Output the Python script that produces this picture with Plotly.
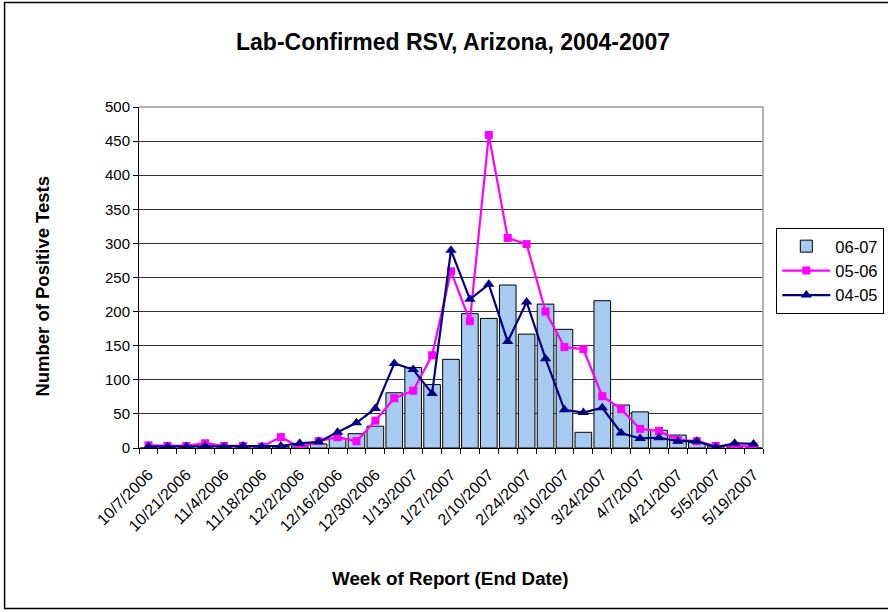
import plotly.graph_objects as go

weeks = ["10/7/2006", "10/14/2006", "10/21/2006", "10/28/2006", "11/4/2006", "11/11/2006",
         "11/18/2006", "11/25/2006", "12/2/2006", "12/9/2006", "12/16/2006", "12/23/2006",
         "12/30/2006", "1/6/2007", "1/13/2007", "1/20/2007", "1/27/2007", "2/3/2007",
         "2/10/2007", "2/17/2007", "2/24/2007", "3/3/2007", "3/10/2007", "3/17/2007",
         "3/24/2007", "3/31/2007", "4/7/2007", "4/14/2007", "4/21/2007", "4/28/2007",
         "5/5/2007", "5/12/2007", "5/19/2007"]

# every second week is labelled on the axis
tick_labels = [w if i % 2 == 0 else "" for i, w in enumerate(weeks)]

season_0607 = [0, 0, 0, 0, 0, 0, 1, 2, 3, 6, 14, 21, 32, 81, 118, 93, 130, 197, 190,
               239, 167, 211, 174, 23, 216, 63, 53, 26, 19, 8, 3, 0, 0]
season_0506 = [4, 3, 3, 7, 3, 3, 2, 16, 1, 10, 16, 10, 40, 73, 84, 136, 259, 186, 459,
               308, 299, 200, 148, 145, 76, 57, 28, 25, 12, 10, 3, 3, 2]
season_0405 = [2, 2, 2, 3, 2, 3, 2, 3, 7, 9, 23, 37, 58, 124, 115, 80, 290, 218, 240,
               156, 214, 131, 56, 52, 59, 22, 14, 15, 10, 10, 1, 7, 6]

y_ticks = list(range(0, 501, 50))

FONT = "Liberation Sans, Arial, sans-serif"

fig = go.Figure()
fig.add_trace(go.Bar(
    x=weeks, y=season_0607, name="06-07",
    marker=dict(color="#A6CAF0", line=dict(color="#000000", width=1)),
))
fig.add_trace(go.Scatter(
    x=weeks, y=season_0506, name="05-06", mode="lines+markers",
    line=dict(color="#FF00FF", width=2.2),
    marker=dict(symbol="square", size=8, color="#FF00FF"),
))
fig.add_trace(go.Scatter(
    x=weeks, y=season_0405, name="04-05", mode="lines+markers",
    line=dict(color="#000080", width=2.2),
    marker=dict(symbol="triangle-up", size=10, color="#000080"),
))

L, R, T, B = 139.3, 762.7, 107.3, 447.7
W, H = 888, 612
pw, ph = R - L, B - T

def px(xp):
    return (xp - L) / pw

def py(yp):
    return (B - yp) / ph

fig.update_layout(
    width=W, height=H,
    margin=dict(l=L, r=W - R, t=T, b=H - B, autoexpand=False),
    paper_bgcolor="white", plot_bgcolor="white",
    font=dict(family=FONT, color="#000000", size=16),
    bargap=0.12,
    showlegend=True,
    legend=dict(
        x=px(776), y=py(228), xanchor="left", yanchor="top",
        bgcolor="white", bordercolor="#000000", borderwidth=1,
        font=dict(size=16.5, family=FONT), traceorder="normal",
        tracegroupgap=0, itemwidth=48,
    ),
    xaxis=dict(
        type="category", categoryorder="array", categoryarray=weeks,
        range=[-0.5, len(weeks) - 0.5], autorange=False,
        tickmode="array", tickvals=weeks, ticktext=tick_labels,
        tickangle=-45, ticks="outside", ticklen=5, tickcolor="#000000",
        tickson="boundaries", ticklabelstandoff=10,
        showline=True, linecolor="#000000", linewidth=1,
        showgrid=False, tickfont=dict(size=16, family=FONT),
    ),
    yaxis=dict(
        range=[0, 500], autorange=False, tickmode="array", tickvals=y_ticks,
        ticks="outside", ticklen=5, tickcolor="#000000",
        showline=True, linecolor="#000000", linewidth=1,
        showgrid=True, gridcolor="#333333", gridwidth=1,
        zeroline=False, tickfont=dict(size=15, family=FONT),
    ),
    annotations=[
        dict(text="<b>Lab-Confirmed RSV, Arizona, 2004-2007</b>", xref="paper", yref="paper",
             x=px(453), y=py(42), xanchor="center", yanchor="middle", showarrow=False,
             font=dict(size=23, family=FONT)),
        dict(text="<b>Number of Positive Tests</b>", xref="paper", yref="paper",
             x=px(42), y=py(286), xanchor="center", yanchor="middle", showarrow=False,
             textangle=-90, font=dict(size=18.5, family=FONT)),
        dict(text="<b>Week of Report (End Date)</b>", xref="paper", yref="paper",
             x=px(451), y=py(578), xanchor="center", yanchor="middle", showarrow=False,
             font=dict(size=18.8, family=FONT)),
    ],
    shapes=[
        # outer chart border
        dict(type="rect", xref="paper", yref="paper", x0=px(5), x1=px(900), y0=py(608), y1=py(3),
             line=dict(color="#000000", width=1.5), fillcolor="rgba(0,0,0,0)", layer="above"),
        # plot-area border (top and right)
        dict(type="line", xref="paper", yref="paper", x0=0, x1=1, y0=1, y1=1,
             line=dict(color="#9a9a9a", width=1.5), layer="above"),
        dict(type="line", xref="paper", yref="paper", x0=1, x1=1, y0=0, y1=1,
             line=dict(color="#9a9a9a", width=1.5), layer="above"),
    ],
)

fig.write_html("out.html", config={"displayModeBar": False},
               post_script="document.body.style.margin='0px';")
